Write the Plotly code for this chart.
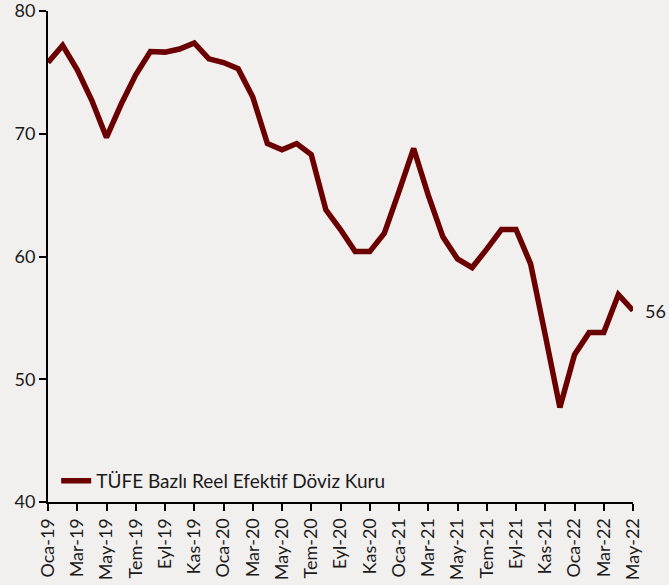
import plotly.graph_objects as go

months_tr = ["Oca", "Şub", "Mar", "Nis", "May", "Haz", "Tem", "Ağu", "Eyl", "Eki", "Kas", "Ara"]
dates = [f"{m}-{y}" for y in ["19", "20", "21"] for m in months_tr] + [f"{m}-22" for m in months_tr[:5]]

reer = [75.8, 77.2, 75.2, 72.7, 69.7, 72.4, 74.8, 76.7, 76.65, 76.9, 77.4, 76.1,
        75.8, 75.3, 73.0, 69.2, 68.7, 69.2, 68.3, 63.8, 62.2, 60.4, 60.4, 61.9,
        65.3, 68.8, 65.0, 61.6, 59.8, 59.1, 60.6, 62.2, 62.2, 59.4, 53.6, 47.7,
        52.0, 53.8, 53.8, 56.9, 55.6]
series_name = "TÜFE Bazlı Reel Efektif Döviz Kuru"
last_label = "56"
tick_labels = dates[::2]
y_ticks = [40, 50, 60, 70, 80]

font_family = "Lato, 'Open Sans', sans-serif"
line_color = "#6b0000"
text_color = "#1a1a1a"

fig = go.Figure()
fig.add_trace(go.Scatter(x=dates, y=reer, mode="lines", name=series_name,
                         line=dict(color=line_color, width=5.5), cliponaxis=False))
fig.add_annotation(x=dates[-1], y=reer[-1], text=last_label, showarrow=False,
                   xanchor="left", xshift=10, font=dict(size=18, color=text_color, family=font_family))

fig.update_layout(
    width=669, height=585,
    margin=dict(l=48, r=36, t=11, b=83, autoexpand=False),
    paper_bgcolor="#f2f0ef", plot_bgcolor="#f2f0ef",
    font=dict(family=font_family, color=text_color),
    showlegend=True,
    legend=dict(x=0.014, y=0.043, xanchor="left", yanchor="middle",
                bgcolor="rgba(0,0,0,0)", font=dict(size=19), itemwidth=30),
    xaxis=dict(type="category", range=[0, len(dates) - 1], tickmode="array",
               tickvals=tick_labels, ticktext=tick_labels, tickangle=-90,
               showgrid=False, showline=True, linecolor="black", linewidth=2,
               ticks="outside", ticklen=7, tickwidth=2, tickcolor="black",
               tickfont=dict(size=18), zeroline=False, automargin=False,
               ticklabeloverflow="allow"),
    yaxis=dict(range=[40, 80.0001], tickvals=y_ticks, showgrid=False, showline=True,
               linecolor="black", linewidth=2, ticks="outside", ticklen=7,
               tickwidth=2, tickcolor="black", tickfont=dict(size=18), zeroline=False,
               automargin=False, ticklabeloverflow="allow"),
)
fig.write_html("out.html", config={"displayModeBar": False},
               post_script="document.body.style.margin='0';")
